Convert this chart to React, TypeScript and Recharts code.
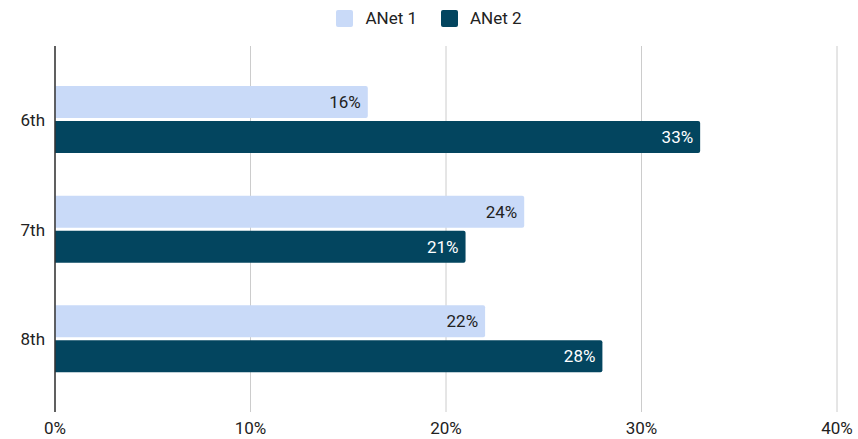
import { BarChart, Bar, XAxis, YAxis, CartesianGrid, Legend, LabelList } from 'recharts';

const grades = ['6th', '7th', '8th'];
const anet1 = [16, 24, 22];
const anet2 = [33, 21, 28];
const xTicks = [0, 10, 20, 30, 40];

const LIGHT = '#c9daf8';
const DARK = '#03455f';
const TEXT = '#222222';
const FONT = 'Roboto, "Noto Sans", sans-serif';

const data = grades.map((name, i) => ({ name, anet1: anet1[i], anet2: anet2[i] }));

const legendItems = [
  { label: 'ANet 1', color: LIGHT },
  { label: 'ANet 2', color: DARK },
];

// legend drawn as a plain row so its spacing matches the sheet export
const LegendRow = () => (
  <div style={{ display: 'flex', justifyContent: 'center', alignItems: 'center', height: 36, fontFamily: FONT }}>
    {legendItems.map((item, i) => (
      <div key={item.label} style={{ display: 'flex', alignItems: 'center', marginLeft: i ? 24 : 0 }}>
        <span style={{ width: 17, height: 17, background: item.color, borderRadius: 2, display: 'inline-block' }} />
        <span style={{ marginLeft: 12, fontSize: 17, color: TEXT }}>{item.label}</span>
      </div>
    ))}
  </div>
);

const App = () => {
  return (
    <div style={{ position: 'absolute', left: 0, top: 0, width: 858, height: 439, background: '#fff' }}>
      <BarChart
        width={858}
        height={439}
        data={data}
        layout="vertical"
        margin={{ top: 10, right: 21, left: 0, bottom: 0 }}
        barSize={32}
        barGap={3}
        style={{ fontFamily: FONT }}
      >
        <Legend verticalAlign="top" align="center" content={<LegendRow />} wrapperStyle={{ top: 0, left: 0, width: 858 }} />
        <CartesianGrid horizontal={false} stroke="#cccccc" />
        <XAxis
          type="number"
          domain={[0, 40]}
          ticks={xTicks}
          tickFormatter={(v) => `${v}%`}
          axisLine={false}
          tickLine={false}
          tickMargin={4}
          height={27}
          tick={{ fontSize: 17, fill: TEXT }}
        />
        <YAxis
          type="category"
          dataKey="name"
          width={55}
          axisLine={{ stroke: '#333333', strokeWidth: 1.5 }}
          tickLine={false}
          tickMargin={4}
          padding={{ top: 19, bottom: 18 }}
          tick={{ fontSize: 17, fill: TEXT }}
        />
        <Bar dataKey="anet1" name="ANet 1" fill={LIGHT} radius={[0, 2, 2, 0]} isAnimationActive={false}>
          <LabelList dataKey="anet1" position="insideRight" offset={7} formatter={(v) => `${v}%`} fill={TEXT} fontSize={17} />
        </Bar>
        <Bar dataKey="anet2" name="ANet 2" fill={DARK} radius={[0, 2, 2, 0]} isAnimationActive={false}>
          <LabelList dataKey="anet2" position="insideRight" offset={7} formatter={(v) => `${v}%`} fill="#ffffff" fontSize={17} />
        </Bar>
      </BarChart>
    </div>
  );
};

export default App;
